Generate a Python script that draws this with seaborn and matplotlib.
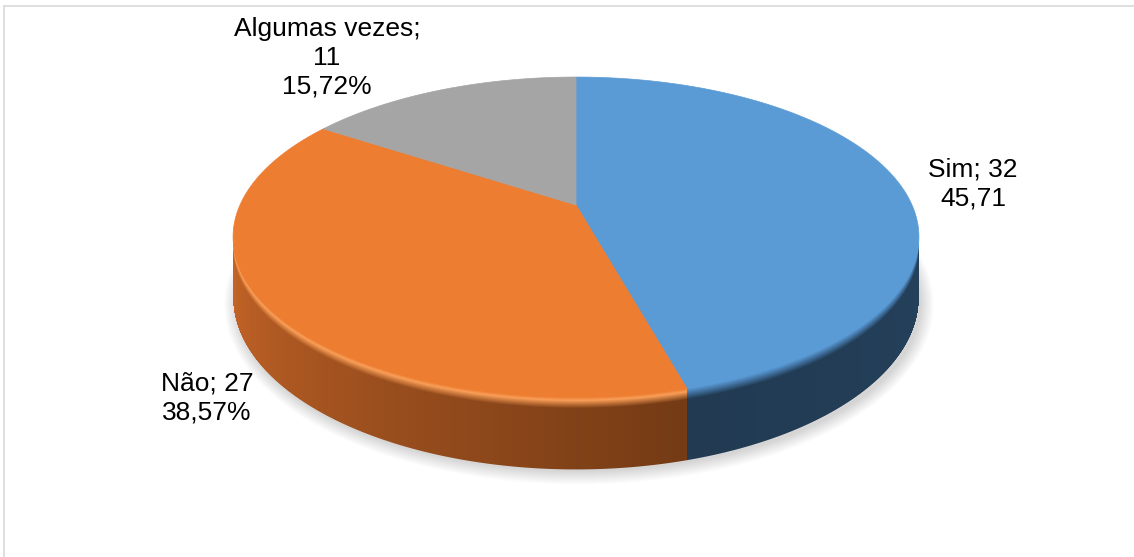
import numpy as np
import matplotlib
matplotlib.use("Agg")
import matplotlib.pyplot as plt
from matplotlib.patches import Polygon, Ellipse
from matplotlib.colors import to_rgb
import seaborn as sns

# Survey answers
categories = ["Sim", "Não", "Algumas vezes"]
counts = [32, 27, 11]
percents = [45.71, 38.57, 15.72]
pct_signs = ["", "%", "%"]

# Colours: top face, side wall at the clockwise-first / clockwise-last end, rim bevel
top_colors = ["#5B9BD5", "#ED7D31", "#A5A5A5"]
side_first = ["#26425E", "#743B15", "#6C6C6C"]
side_last = ["#223B53", "#D26B2B", "#8C8C8C"]
rim_colors = ["#4A80B4", "#F99E57", "#B5B5B5"]

sns.set_theme(style="white")
plt.rcParams["font.family"] = ["Liberation Sans", "DejaVu Sans"]

W, H = 1134, 557
fig = plt.figure(figsize=(W / 100, H / 100), dpi=100)
ax = fig.add_axes([0, 0, 1, 1])
ax.set_xlim(0, W)
ax.set_ylim(H, 0)
ax.axis("off")

# chart-area border (top and left edges)
ax.plot([4, W], [6, 6], color="#D9D9D9", lw=1.2, zorder=0)
ax.plot([4, 4], [6, H], color="#D9D9D9", lw=1.2, zorder=0)

# disc geometry with a mild perspective (pixels)
cx, cy = 576, 205          # apex of the slices
R, squash, persp = 336, 0.457, 0.20
depth0, bevel = 58, 9


def proj(theta_deg, d=0.0):
    t = np.radians(theta_deg)
    w = 1 + persp * np.sin(t)
    return cx + R * np.cos(t) / w, cy - R * squash * np.sin(t) / w + d / w


def mix(c1, c2, f):
    a = np.array(to_rgb(c1)) if isinstance(c1, str) else np.asarray(c1)
    b = np.array(to_rgb(c2)) if isinstance(c2, str) else np.asarray(c2)
    f = np.asarray(f)[..., None]
    return a + (b - a) * f


# slice sweep (degrees clockwise from 12 o'clock)
fracs = np.array(percents) / np.sum(percents)
u_start = 360 * np.concatenate([[0], np.cumsum(fracs)[:-1]])
u_end = 360 * np.cumsum(fracs)
starts = 90 - u_start
ends = 90 - u_end

# soft shadow under the disc
yb_back = proj(90, depth0)[1]
yb_front = proj(-90, depth0)[1]
for k in range(14):
    ax.add_patch(Ellipse((cx + 3, (yb_back + yb_front) / 2 + 7),
                         2 * (R * 1.02 + 12 - k), yb_front - yb_back + 2 * (8 - k),
                         color="black", alpha=0.011, lw=0, zorder=1))

# side wall rendered as a shaded raster
sil = np.degrees(np.arcsin(persp))
th_grid = np.linspace(-180 + sil, -sil, 4000)
x_grid, _ = proj(th_grid)
x0, x1 = int(x_grid.min()) - 1, int(x_grid.max()) + 2
y0, y1 = int(cy - 40), int(yb_front) + 3
X, Y = np.meshgrid(np.arange(x0, x1) + 0.5, np.arange(y0, y1) + 0.5)
TH = np.interp(X, x_grid, th_grid)
_, YT = proj(TH)
Wt = 1 + persp * np.sin(np.radians(TH))
D = (Y - YT) * Wt
U = np.mod(90 - TH, 360)

rgb = np.zeros(X.shape + (3,))
for i in range(len(categories)):
    m = (U >= u_start[i]) & (U < u_end[i])
    if not m.any():
        continue
    a0, a1 = max(u_start[i], 90), min(u_end[i], 270)
    f = np.clip((U - a0) / max(a1 - a0, 1e-6), 0, 1)
    base = mix(side_first[i], side_last[i], f)
    g = np.clip(D / bevel, 0, 1)
    rim_rgb = np.array(to_rgb(rim_colors[i]))
    rim1 = mix(top_colors[i], rim_colors[i], np.clip(g / 0.3, 0, 1))
    rim2 = rim_rgb + (base - rim_rgb) * np.clip((g - 0.3) / 0.7, 0, 1)[..., None]
    col = np.where((g < 0.3)[..., None], rim1, rim2)
    rgb[m] = col[m]

alpha = np.clip((depth0 - D) / Wt + 0.5, 0, 1) * (D > -2)
alpha *= (X >= x_grid.min() - 0.5) & (X <= x_grid.max() + 0.5)
img = np.dstack([rgb, alpha])
ax.imshow(img, extent=(x0, x1, y1, y0), origin="upper", interpolation="bilinear",
          zorder=2, aspect="auto")
ax.set_xlim(0, W)
ax.set_ylim(H, 0)

# top faces
for i in range(len(categories)):
    th = np.linspace(starts[i], ends[i], 300)
    xs, ys = proj(th)
    verts = [(cx, cy)] + list(zip(xs, ys))
    ax.add_patch(Polygon(verts, closed=True, facecolor=top_colors[i],
                         edgecolor=top_colors[i], lw=0.5, zorder=3))

# data labels
label_xy = [(973, 184), (207, 398), (327, 58)]
for i in range(len(categories)):
    pct = f"{percents[i]:.2f}".replace(".", ",") + pct_signs[i]
    if i == 2:
        txt = f"{categories[i]};\n{counts[i]}\n{pct}"
    else:
        txt = f"{categories[i]}; {counts[i]}\n{pct}"
    ax.text(label_xy[i][0], label_xy[i][1], txt, ha="center", va="center",
            fontsize=19, color="#000000", linespacing=1.245, zorder=5)

fig.savefig("out.png", dpi=100, facecolor="white")
